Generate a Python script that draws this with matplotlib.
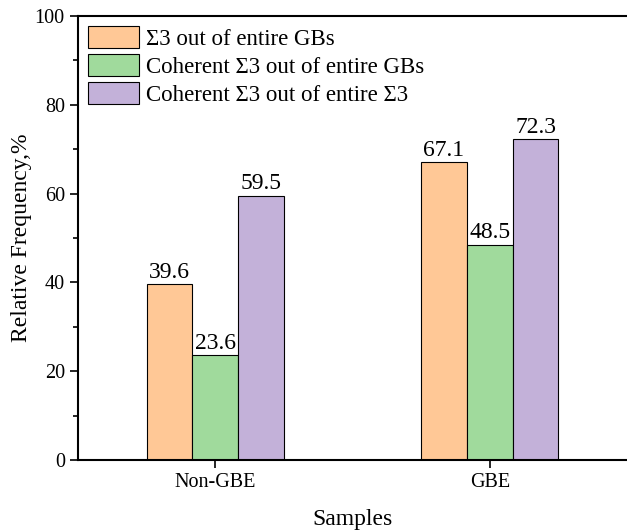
import numpy as np
import matplotlib.pyplot as plt
from matplotlib.ticker import MultipleLocator

samples = ['Non-GBE', 'GBE']
series_names = ['Σ3 out of entire GBs',
                'Coherent Σ3 out of entire GBs',
                'Coherent Σ3 out of entire Σ3']
sigma3_all = [39.6, 67.1]
coherent_all = [23.6, 48.5]
coherent_sigma3 = [59.5, 72.3]

colors = ['#FFC896', '#A0DA9C', '#C3B1D9']

plt.rcParams['font.family'] = ['Liberation Serif', 'DejaVu Serif']

fig = plt.figure(figsize=(6.27, 5.31), dpi=100)
ax = fig.add_axes([0.1244, 0.1337, 0.8756, 0.8362])

x = np.arange(len(samples))
w = 0.1667
for i, (vals, name) in enumerate(zip([sigma3_all, coherent_all, coherent_sigma3], series_names)):
    bars = ax.bar(x + (i - 1) * w, vals, w, color=colors[i], edgecolor='black',
                  linewidth=0.8, label=name)
    ax.bar_label(bars, labels=['%.1f' % v for v in vals], padding=1, fontsize=17)

ax.set_xlim(-0.5, 1.5)
ax.set_ylim(0, 100)
ax.set_xticks(x)
ax.set_xticklabels(samples)
ax.yaxis.set_major_locator(MultipleLocator(20))
ax.yaxis.set_minor_locator(MultipleLocator(10))
ax.tick_params(axis='both', which='major', direction='out', length=6, width=1.2, labelsize=14.5)
ax.tick_params(axis='y', which='minor', direction='out', length=3.5, width=1.2)
for s in ['left', 'bottom', 'top']:
    ax.spines[s].set_linewidth(1.5)
ax.spines['right'].set_visible(False)

ax.set_xlabel('Samples', fontsize=17, labelpad=12)
ax.set_ylabel('Relative Frequency,%', fontsize=17, labelpad=2)

ax.legend(loc='upper left', frameon=False, fontsize=16.5, handlelength=2.2,
          handleheight=1.05, handletextpad=0.3, labelspacing=0.2,
          borderaxespad=0.15, borderpad=0.3, bbox_to_anchor=(0.0, 1.0))

fig.savefig('out.png', dpi=100)
